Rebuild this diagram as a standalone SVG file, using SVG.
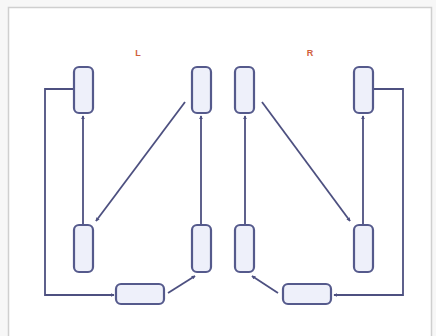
<svg xmlns="http://www.w3.org/2000/svg" width="436" height="336" viewBox="0 0 436 336">
<defs>
<marker id="ah" viewBox="0 0 6 6" refX="5" refY="3" markerWidth="4" markerHeight="4" orient="auto" markerUnits="userSpaceOnUse">
<path d="M0,0 L6,3 L0,6 z" fill="#4d5080"/>
</marker>
</defs>
<style>
.n{fill:#eef0fa;stroke:#555a8c;stroke-width:2.2}
.c{fill:none;stroke:#4d5080;stroke-width:1.8;marker-end:url(#ah)}
.lb{font-family:"Liberation Sans",Arial,sans-serif;font-size:9px;font-weight:bold;fill:#d0603c;text-anchor:middle}
</style>
<rect x="0" y="0" width="436" height="336" fill="#f7f7f7"/>
<rect x="8.5" y="7.5" width="423" height="340" fill="#ffffff" stroke="#cfcfcf" stroke-width="1.5"/>
<text class="lb" x="138" y="56">L</text>
<text class="lb" x="310" y="56">R</text>
<g id="connectors">
<path class="c" d="M74,89 H45 V295 H114"/>
<path class="c" d="M83,225 V116"/>
<path class="c" d="M185,102 L96,221"/>
<path class="c" d="M201,225 V116"/>
<path class="c" d="M168,293 L195,276"/>
<path class="c" d="M373,89 H403 V295 H334"/>
<path class="c" d="M363,225 V116"/>
<path class="c" d="M262,102 L350,221"/>
<path class="c" d="M245,225 V116"/>
<path class="c" d="M278,293 L252,276"/>
</g>
<g id="L1"><rect class="n" x="74" y="67" width="19" height="46" rx="5"/></g>
<g id="L2"><rect class="n" x="192" y="67" width="19" height="46" rx="5"/></g>
<g id="L3"><rect class="n" x="74" y="225" width="19" height="47" rx="5"/></g>
<g id="L4"><rect class="n" x="192" y="225" width="19" height="47" rx="5"/></g>
<g id="L5"><rect class="n" x="116" y="284" width="48" height="20" rx="5"/></g>
<g id="R1"><rect class="n" x="235" y="67" width="19" height="46" rx="5"/></g>
<g id="R2"><rect class="n" x="354" y="67" width="19" height="46" rx="5"/></g>
<g id="R3"><rect class="n" x="235" y="225" width="19" height="47" rx="5"/></g>
<g id="R4"><rect class="n" x="354" y="225" width="19" height="47" rx="5"/></g>
<g id="R5"><rect class="n" x="283" y="284" width="48" height="20" rx="5"/></g>
</svg>
